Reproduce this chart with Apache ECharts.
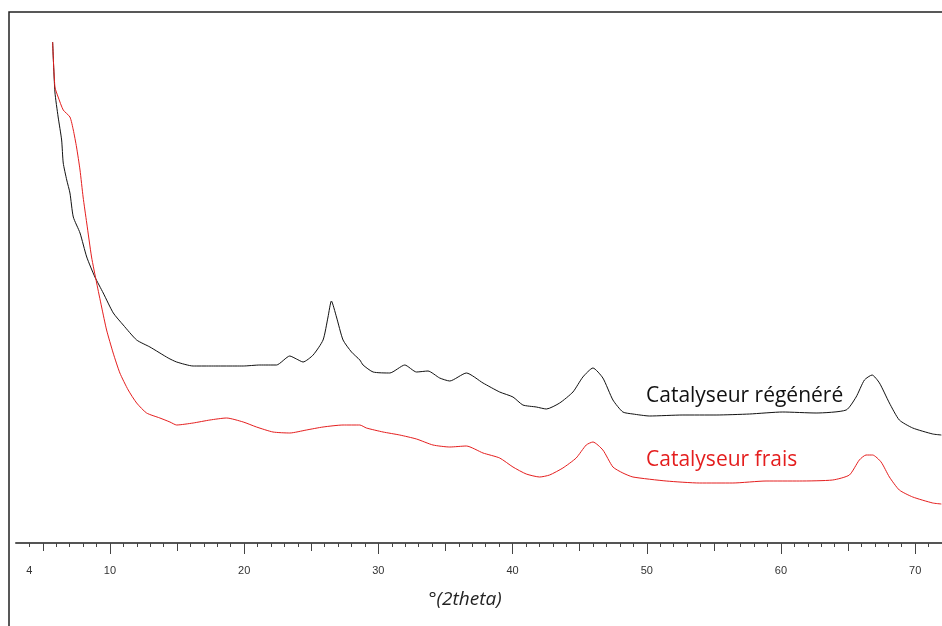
<!DOCTYPE html>
<html>
<head>
<meta charset="utf-8">
<script src="https://cdn.jsdelivr.net/npm/echarts@6/dist/echarts.min.js"></script>
<style>
  html, body { margin: 0; padding: 0; background: #fff; }
  #chart { width: 942px; height: 626px; }
</style>
</head>
<body>
<div id="chart"></div>
<script>
// 2theta / intensity (arbitrary units)
const regenere = [
  [5.73, 501], [5.90, 451], [6.14, 426], [6.40, 403], [6.52, 380], [6.78, 363],
  [7.02, 350], [7.27, 326], [7.77, 310], [8.27, 286], [8.88, 266], [9.50, 250],
  [10.25, 230], [10.99, 218], [11.99, 203], [12.98, 196], [14.34, 185], [14.97, 181],
  [16.20, 177], [17.45, 177], [18.69, 177], [19.93, 177], [21.17, 178], [22.41, 178],
  [23.40, 187], [23.90, 184], [24.39, 181], [25.14, 188], [25.88, 203], [26.25, 226],
  [26.50, 242], [26.88, 226], [27.37, 203], [28.00, 191], [28.62, 183], [28.86, 178],
  [29.61, 171], [30.85, 170], [31.97, 178], [32.84, 171], [33.70, 172], [34.57, 165],
  [35.32, 162], [36.56, 170], [37.80, 160], [39.04, 151], [40.03, 146], [40.77, 138],
  [41.77, 136], [42.52, 134], [43.51, 140], [44.50, 151], [45.24, 166], [45.99, 175],
  [46.73, 165], [47.48, 143], [48.22, 131], [48.97, 129], [50.21, 127], [52.69, 128],
  [55.17, 128], [57.66, 129], [60.13, 131], [62.62, 130], [64.86, 133], [65.60, 146],
  [66.22, 163], [66.79, 168], [67.34, 160], [68.08, 140], [68.82, 123], [69.82, 115],
  [71.31, 109], [71.95, 108]
];

const frais = [
  [5.73, 501], [5.90, 456], [6.14, 446], [6.52, 433], [7.02, 426], [7.27, 413],
  [7.51, 396], [7.77, 373], [8.00, 346], [8.27, 320], [8.63, 286], [9.01, 260],
  [9.38, 236], [9.75, 213], [10.24, 190], [10.74, 170], [11.36, 153], [11.99, 140],
  [12.73, 130], [13.72, 125], [14.47, 121], [14.97, 118], [16.20, 120], [17.45, 123],
  [18.69, 125], [19.93, 121], [20.92, 116], [22.15, 111], [23.40, 110], [24.64, 113],
  [25.88, 116], [27.37, 118], [28.62, 118], [29.11, 115], [30.35, 111], [31.59, 108],
  [32.84, 104], [34.07, 98], [35.32, 96], [36.56, 97], [37.80, 90], [39.04, 85],
  [40.03, 76], [41.02, 69], [42.02, 66], [42.76, 68], [43.75, 75], [44.74, 85],
  [45.49, 98], [45.99, 101], [46.73, 93], [47.48, 76], [48.22, 70], [48.97, 66],
  [51.45, 62], [53.93, 60], [56.41, 60], [58.89, 62], [61.38, 62], [63.85, 63],
  [65.10, 68], [65.84, 83], [66.34, 88], [66.83, 88], [67.46, 81], [68.08, 66],
  [68.82, 53], [69.82, 46], [71.31, 40], [71.95, 39]
];

const X_MIN = 3;
const X_MAX = 72;

// tick positions: every degree, every 5, every 10
const smallTicks = [];
for (let v = 4; v <= 72; v++) smallTicks.push(v);
const mediumTicks = [5, 15, 25, 35, 45, 55, 65];
const largeTicks = [10, 20, 30, 40, 50, 60, 70];
const tickLabels = [4, 10, 20, 30, 40, 50, 60, 70];

const TICK_COLOR = '#444';
const RED = '#e41e1e';

function makeAxis(ticks, length, labels, showLine) {
  return {
    type: 'value',
    position: 'bottom',
    min: X_MIN,
    max: X_MAX,
    splitLine: { show: false },
    axisLine: {
      show: showLine,
      onZero: false,
      lineStyle: { color: '#555', width: 2 }
    },
    axisTick: {
      show: true,
      customValues: ticks,
      length: length,
      lineStyle: { color: TICK_COLOR, width: 1 }
    },
    axisLabel: labels ? {
      show: true,
      customValues: labels,
      margin: 22,
      color: '#333',
      fontFamily: 'Liberation Sans',
      fontSize: 11
    } : { show: false }
  };
}

const chart = echarts.init(document.getElementById('chart'), null, { renderer: 'canvas' });

chart.setOption({
  animation: false,
  backgroundColor: '#fff',
  grid: { left: 16, right: 0, top: 33, bottom: 83 },
  xAxis: [
    makeAxis(smallTicks, 4, null, true),
    makeAxis(mediumTicks, 8, null, false),
    makeAxis(largeTicks, 11, tickLabels, false)
  ],
  yAxis: {
    type: 'value',
    min: 0,
    max: 510,
    show: false
  },
  series: [
    {
      name: 'Catalyseur régénéré',
      type: 'line',
      xAxisIndex: 0,
      data: regenere,
      showSymbol: false,
      smooth: 0.2,
      lineStyle: { color: '#111', width: 1 }
    },
    {
      name: 'Catalyseur frais',
      type: 'line',
      xAxisIndex: 0,
      data: frais,
      showSymbol: false,
      smooth: 0.2,
      lineStyle: { color: RED, width: 1 }
    }
  ],
  graphic: [
    {
      type: 'rect',
      shape: { x: 9, y: 12, width: 1000, height: 700 },
      style: { fill: 'none', stroke: '#222', lineWidth: 1.5 },
      silent: true
    },
    {
      type: 'text',
      x: 646, y: 396,
      style: {
        text: 'Catalyseur régénéré',
        fill: '#111',
        font: '21px "Open Sans"',
        textVerticalAlign: 'middle'
      }
    },
    {
      type: 'text',
      x: 646, y: 460,
      style: {
        text: 'Catalyseur frais',
        fill: RED,
        font: '21px "Open Sans"',
        textVerticalAlign: 'middle'
      }
    },
    {
      type: 'text',
      x: 465, y: 600,
      style: {
        text: '°(2theta)',
        fill: '#222',
        font: 'italic 19px "Open Sans"',
        textAlign: 'center',
        textVerticalAlign: 'middle'
      }
    }
  ]
});
</script>
</body>
</html>
